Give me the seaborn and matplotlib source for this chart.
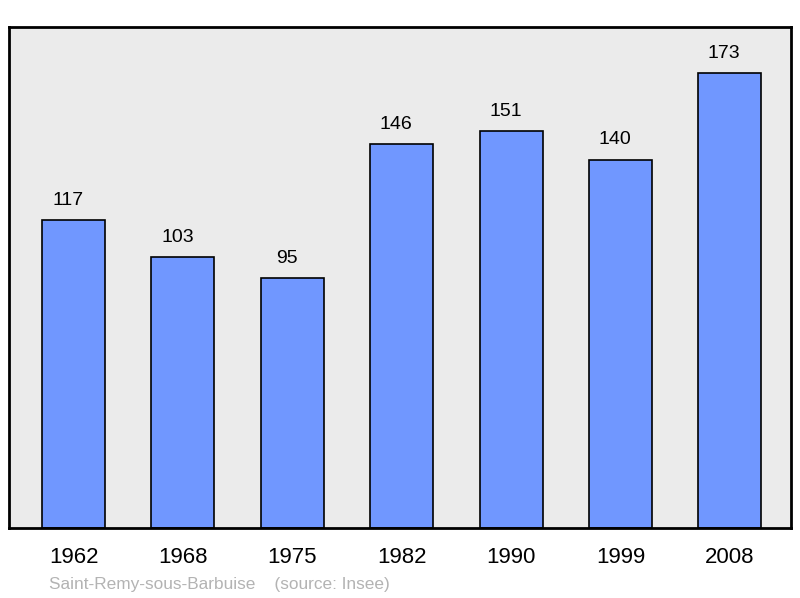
import matplotlib
matplotlib.use("Agg")
import matplotlib.pyplot as plt
import seaborn as sns
import pandas as pd

# Population data
years = ["1962", "1968", "1975", "1982", "1990", "1999", "2008"]
population = [117, 103, 95, 146, 151, 140, 173]
town = "Saint-Remy-sous-Barbuise"
source = "(source: Insee)"

df = pd.DataFrame({"year": years, "population": population})

sns.set_style("white")
plt.rcParams["font.family"] = ["Liberation Sans", "DejaVu Sans"]
plt.rcParams["text.color"] = "black"
plt.rcParams["xtick.color"] = "black"

fig = plt.figure(figsize=(8, 5.98), dpi=100)
ax = fig.add_axes([9 / 800, 1 - 528 / 598, 782 / 800, 501 / 598])
ax.set_facecolor("#ebebeb")

sns.barplot(data=df, x="year", y="population", color="#7097ff", saturation=1,
            width=0.576, edgecolor="black", linewidth=1.2, ax=ax)

# value labels above the bars
for i, v in enumerate(population):
    ax.annotate(str(v), (i, v), xytext=(-4, 14.3), textcoords="offset points",
                ha="center", va="center", fontsize=14, color="black")

ax.set_xlim(-0.59, 6.56)
ax.set_ylim(0, 190.5)
ax.set_xlabel("")
ax.set_ylabel("")
ax.set_yticks([])
ax.tick_params(axis="x", length=0, labelsize=16, pad=14, labelcolor="black")
for s in ax.spines.values():
    s.set_visible(True)
    s.set_color("black")
    s.set_linewidth(2)

fig.text(49 / 800, 1 - 584 / 598, f"{town}    {source}", fontsize=12.4,
         color="#b3b3b3", va="center", ha="left")

fig.savefig("out.png", dpi=100)
